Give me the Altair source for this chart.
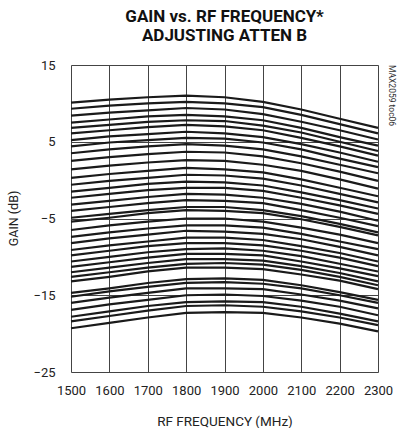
import altair as alt
import pandas as pd

FREQ = [1500, 1600, 1700, 1800, 1900, 2000, 2100, 2200, 2300]

GAIN_CURVES = [
    [10.1, 10.5, 10.8, 11.0, 10.8, 10.2, 9.2, 8.0, 6.8],
    [9.3, 9.7, 10.0, 10.2, 10.0, 9.5, 8.5, 7.3, 6.1],
    [8.4, 8.8, 9.1, 9.4, 9.2, 8.6, 7.6, 6.5, 5.3],
    [7.5, 7.9, 8.3, 8.5, 8.3, 7.8, 6.8, 5.6, 4.5],
    [6.8, 7.2, 7.6, 7.8, 7.7, 7.1, 6.2, 5.0, 3.8],
    [6.1, 6.5, 6.9, 7.2, 7.0, 6.5, 5.5, 4.4, 3.2],
    [5.2, 5.7, 6.0, 6.3, 6.1, 5.6, 4.7, 3.6, 2.4],
    [4.4, 4.9, 5.2, 5.5, 5.4, 4.9, 4.0, 2.8, 1.7],
    [3.5, 4.0, 4.4, 4.7, 4.5, 4.0, 3.1, 2.0, 0.9],
    [2.5, 3.0, 3.4, 3.7, 3.6, 3.1, 2.2, 1.1, -0.1],
    [1.4, 1.9, 2.3, 2.6, 2.5, 2.0, 1.2, 0.1, -1.1],
    [0.3, 0.8, 1.2, 1.6, 1.4, 1.0, 0.1, -1.0, -2.1],
    [-0.6, -0.1, 0.3, 0.7, 0.6, 0.2, -0.7, -1.8, -2.9],
    [-1.5, -1.0, -0.5, -0.2, -0.3, -0.7, -1.6, -2.6, -3.7],
    [-2.3, -1.8, -1.3, -1.0, -1.0, -1.4, -2.3, -3.3, -4.4],
    [-3.2, -2.7, -2.2, -1.8, -1.9, -2.3, -3.1, -4.1, -5.3],
    [-4.0, -3.5, -3.0, -2.6, -2.7, -3.0, -3.9, -4.9, -6.0],
    [-4.9, -4.4, -3.9, -3.5, -3.5, -3.9, -4.7, -5.7, -6.8],
    [-5.4, -4.9, -4.3, -3.9, -4.0, -4.3, -5.1, -6.1, -7.2],
    [-6.5, -5.9, -5.4, -5.0, -5.0, -5.4, -6.2, -7.1, -8.2],
    [-7.4, -6.8, -6.3, -5.9, -5.9, -6.2, -7.0, -8.0, -9.0],
    [-8.2, -7.6, -7.1, -6.6, -6.7, -7.0, -7.7, -8.7, -9.8],
    [-9.1, -8.5, -8.0, -7.5, -7.5, -7.8, -8.6, -9.5, -10.6],
    [-9.8, -9.2, -8.6, -8.2, -8.2, -8.5, -9.2, -10.1, -11.2],
    [-10.6, -10.0, -9.4, -9.0, -8.9, -9.2, -9.9, -10.9, -11.9],
    [-11.3, -10.7, -10.1, -9.6, -9.6, -9.8, -10.6, -11.5, -12.5],
    [-12.0, -11.4, -10.8, -10.3, -10.3, -10.5, -11.2, -12.1, -13.2],
    [-12.6, -12.0, -11.4, -10.9, -10.8, -11.0, -11.7, -12.6, -13.7],
    [-13.2, -12.6, -11.9, -11.4, -11.4, -11.6, -12.3, -13.1, -14.2],
    [-14.7, -14.1, -13.4, -12.9, -12.8, -13.0, -13.7, -14.6, -15.6],
    [-15.2, -14.5, -13.9, -13.4, -13.3, -13.5, -14.1, -15.0, -16.0],
    [-16.0, -15.3, -14.7, -14.1, -14.1, -14.2, -14.9, -15.7, -16.7],
    [-16.9, -16.2, -15.6, -15.0, -14.9, -15.1, -15.7, -16.5, -17.6],
    [-17.8, -17.1, -16.4, -15.9, -15.8, -15.9, -16.5, -17.4, -18.4],
    [-18.4, -17.7, -17.0, -16.4, -16.3, -16.5, -17.1, -17.9, -18.9],
    [-19.3, -18.6, -17.9, -17.3, -17.2, -17.3, -17.9, -18.7, -19.7],
]

X_TICKS = [1500, 1600, 1700, 1800, 1900, 2000, 2100, 2200, 2300]
Y_TICKS = [-25, -15, -5, 5, 15]
NOTE = "MAX2059 toc06"

rows = []
for k, curve in enumerate(GAIN_CURVES):
    for f, g in zip(FREQ, curve):
        rows.append({"curve": k, "freq": f, "gain": g})
df = pd.DataFrame(rows)

FONT = "Roboto, Liberation Sans, sans-serif"

x_enc = alt.X(
    "freq:Q",
    scale=alt.Scale(domain=[1500, 2300], nice=False),
    axis=alt.Axis(
        values=X_TICKS, format="d", labelOverlap=False, labelFlush=False,
        title="RF FREQUENCY (MHz)",
        ticks=False, labelPadding=12, titlePadding=17, grid=True,
        gridColor="#444", gridWidth=1, labelFontSize=13, titleFontSize=13.5,
        titleFontWeight="normal", labelFont=FONT, titleFont=FONT,
        labelColor="#222", titleColor="#222", domain=False,
    ),
)
y_enc = alt.Y(
    "gain:Q",
    scale=alt.Scale(domain=[-25, 15], nice=False),
    axis=alt.Axis(
        values=Y_TICKS, format="d", title="GAIN (dB)", ticks=False,
        labelPadding=16, labelFlush=False, grid=True, gridColor="#444", gridWidth=1,
        labelFontSize=13, titleFontSize=12.5, titleFontWeight="normal",
        labelFont=FONT, titleFont=FONT, labelColor="#222", titleColor="#222",
        titleX=-58, titleY=153, titleAngle=-90, titleBaseline="middle",
        titleAlign="center", domain=False,
    ),
)

lines = alt.Chart(df).mark_line(color="#1a1a1a", strokeWidth=2.2).encode(
    x=x_enc, y=y_enc, detail="curve:N"
)

note = alt.Chart(pd.DataFrame({"t": [NOTE]})).mark_text(
    angle=90, align="left", baseline="middle", fontSize=8.5, font=FONT, color="#333"
).encode(text="t:N", x=alt.value(321), y=alt.value(0))

chart = alt.layer(lines, note).properties(
    width=307, height=307,
    padding={"left": 71, "top": 65, "right": 26, "bottom": 56},
    autosize=alt.AutoSizeParams(type="none"),
    title=alt.TitleParams(
        text=["GAIN vs. RF FREQUENCY*", "ADJUSTING ATTEN B"],
        font=FONT, fontSize=17, fontWeight="bold", color="#111",
        anchor="middle", lineHeight=19, offset=14,
    ),
).configure_view(stroke="#111", strokeWidth=2.5).configure(background="white")

chart.save("out.html", embed_options={"renderer": "svg", "actions": False})
